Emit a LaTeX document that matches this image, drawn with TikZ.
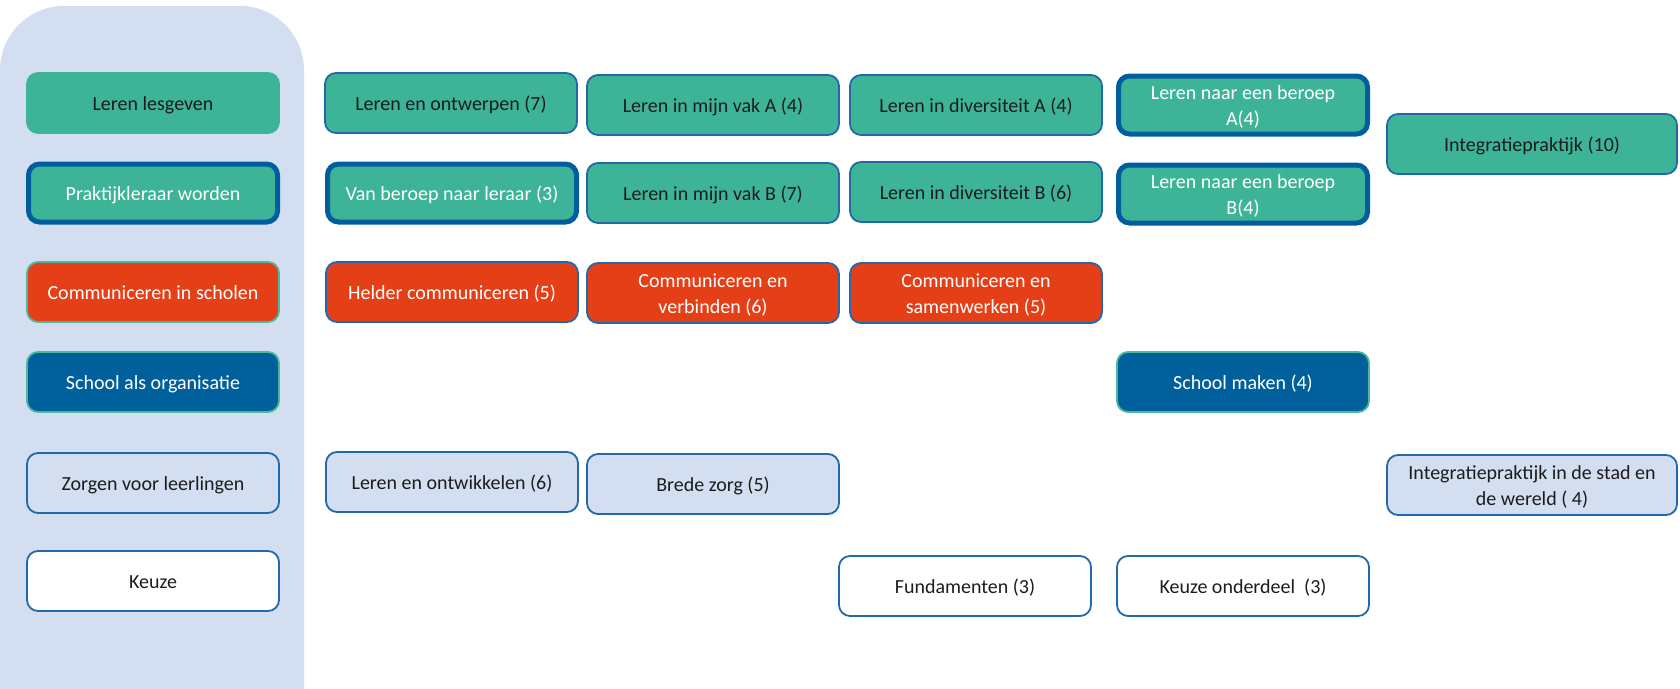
\documentclass[tikz,border=0pt]{standalone}
\usepackage{fontspec}
\setmainfont{Carlito}
\definecolor{panelc}{HTML}{D3DEF1}
\definecolor{grn}{HTML}{3DB497}
\definecolor{grnb}{HTML}{4DB89C}
\definecolor{redc}{HTML}{E53F17}
\definecolor{navy}{HTML}{00609C}
\definecolor{thinb}{HTML}{2169A8}
\definecolor{thickb}{HTML}{005E9E}
\definecolor{txt}{HTML}{1C1C1C}
\tikzset{
  box/.style={rounded corners=11pt, minimum width=252pt, minimum height=60pt,
    align=center, inner sep=0pt, font=\fontsize{20}{25}\selectfont,
    text=txt, draw=thinb, line width=1.8pt,
    execute at begin node={\rule[-5pt]{0pt}{24pt}}},
  two/.style={font=\fontsize{20}{26}\selectfont, text height=44pt, text depth=4pt},
  gbox/.style={box, fill=grn},
  tbox/.style={box, fill=grn, draw=thickb, line width=5pt, text=white, minimum width=249pt, minimum height=58pt},
  rbox/.style={box, fill=redc, text=white},
  nbox/.style={box, fill=navy, text=white, draw=grnb},
  lbox/.style={box, fill=panelc},
  wbox/.style={box, fill=white},
}
\begin{document}
\begin{tikzpicture}[x=1pt,y=-1pt]
\useasboundingbox (0,0) rectangle (1680,688);
\clip (0,0) rectangle (1680,688);
\fill[panelc, rounded corners=64pt] (0,6) rectangle (304,800);

% left column
\node[gbox, draw=grn] (l1) at (153,103) {Leren lesgeven};
\node[tbox] (l2) at (153,193) {Praktijkleraar worden};
\node[rbox, draw=grnb] (l3) at (153,292) {Communiceren in scholen};
\node[nbox] (l4) at (153,382) {School als organisatie};
\node[lbox] (l5) at (153,483) {Zorgen voor leerlingen};
\node[wbox] (l6) at (153,581) {Keuze};

% column 2
\node[gbox] (c2a) at (451,103) {Leren en ontwerpen (7)};
\node[tbox] (c2b) at (452,193) {Van beroep naar leraar (3)};
\node[rbox] (c2c) at (452,292) {Helder communiceren (5)};
\node[lbox] (c2e) at (452,482) {Leren en ontwikkelen (6)};

% column 3
\node[gbox] (c3a) at (713,105) {Leren in mijn vak A (4)};
\node[gbox] (c3b) at (713,193) {Leren in mijn vak B (7)};
\node[rbox, two] (c3c) at (713,293) {Communiceren en\\verbinden (6)};
\node[lbox] (c3e) at (713,484) {Brede zorg (5)};

% column 4
\node[gbox] (c4a) at (976,105) {Leren in diversiteit A (4)};
\node[gbox] (c4b) at (976,192) {Leren in diversiteit B (6)};
\node[rbox, two] (c4c) at (976,293) {Communiceren en\\samenwerken (5)};
\node[wbox] (c4f) at (965,586) {Fundamenten (3)};

% column 5
\node[tbox, two] (c5a) at (1243,105) {Leren naar een beroep\\A(4)};
\node[tbox, two] (c5b) at (1243,194) {Leren naar een beroep\\B(4)};
\node[nbox] (c5d) at (1243,382) {School maken (4)};
\node[wbox] (c5f) at (1243,586) {Keuze onderdeel~ (3)};

% column 6
\node[gbox, minimum width=290pt] (c6a) at (1532,144) {Integratiepraktijk (10)};
\node[lbox, two, minimum width=290pt] (c6e) at (1532,485) {Integratiepraktijk in de stad en\\de wereld ( 4)};
\end{tikzpicture}
\end{document}
